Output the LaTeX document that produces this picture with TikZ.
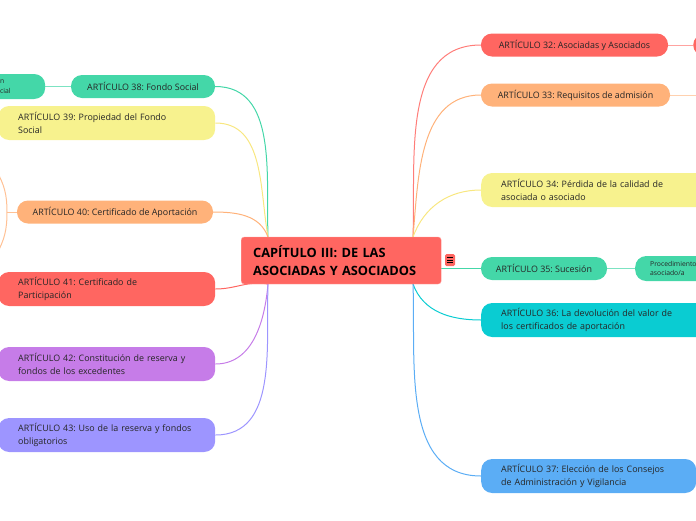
\documentclass[tikz,border=0pt]{standalone}
\usepackage{fontspec}
\setmainfont{Open Sans}
\usetikzlibrary{backgrounds}
\frenchspacing

\definecolor{cRed}{RGB}{255,102,97}
\definecolor{cOrange}{RGB}{255,178,122}
\definecolor{cYellow}{RGB}{247,242,142}
\definecolor{cGreen}{RGB}{68,215,168}
\definecolor{cCyan}{RGB}{10,204,210}
\definecolor{cBlue}{RGB}{91,173,245}
\definecolor{cPurple}{RGB}{198,124,232}
\definecolor{cViolet}{RGB}{157,149,255}

\begin{document}
\begin{tikzpicture}[x=1pt,y=-1pt,
    art/.style={rounded corners=11pt, inner sep=0pt, minimum height=23pt,
                font=\fontsize{8.9}{13}\selectfont, text=black!85},
    arttwo/.style={art, minimum height=34pt, align=left, anchor=west,
                inner xsep=20pt},
    child/.style={rounded corners=11pt, inner sep=0pt, minimum height=25pt,
                font=\fontsize{6.8}{9.5}\selectfont, text=black!85, align=left, anchor=west},
    link/.style={line width=1pt}]
                \useasboundingbox (0,0) rectangle (696,520);
                \clip (0,0) rectangle (696,520);

                % central node
                \node[fill=cRed, draw=cRed!60, rounded corners=3pt, anchor=west,
                      minimum height=47pt, text width=176pt, inner xsep=12pt, align=left,
                      font=\fontsize{12.8}{18}\bfseries\selectfont] (cap) at (241,260.5)
                      {CAPÍTULO III: DE LAS\\ASOCIADAS Y ASOCIADOS};
                \node[fill=cRed, rounded corners=1.5pt, minimum width=10pt, minimum height=12pt,
                      inner sep=0pt] (menu) at (450,260) {};
                \foreach \dy in {-2.5,0,2.5}
                    \draw[line width=0.8pt] ([xshift=-3pt,yshift=-\dy pt]menu.center) -- ([xshift=3pt,yshift=-\dy pt]menu.center);

                \coordinate (rt) at (413,237);
                \coordinate (rb) at (413,284);
                \coordinate (lt) at (268,237);
                \coordinate (lb) at (268,284);

                % right side
                \node[art, fill=cRed, minimum width=187pt] (a32) at (574.5,45) {ARTÍCULO 32: Asociadas y Asociados};
                \node[art, fill=cOrange, minimum width=189pt] (a33) at (575.5,95) {ARTÍCULO 33: Requisitos de admisión};
                \node[arttwo, fill=cYellow, text width=230pt] (a34) at (481,190)
                    {ARTÍCULO 34: Pérdida de la calidad de\\asociada o asociado};
                \node[art, fill=cGreen, minimum width=126pt] (a35) at (544,268.5) {ARTÍCULO 35: Sucesión};
                \node[arttwo, fill=cCyan, text width=230pt] (a36) at (481,320)
                    {ARTÍCULO 36: La devolución del valor de\\los certificados de aportación};
                \node[arttwo, fill=cBlue, text width=175pt] (a37) at (481,476)
                    {ARTÍCULO 37: Elección de los Consejos\\de Administración y Vigilancia};

                \node[child, fill=cRed, minimum width=100pt, minimum height=22pt] (a32c) at (693,45) {};
                \node[child, fill=cGreen, minimum width=100pt, inner xsep=15pt, text width=70pt] (a35c) at (635,268.5)
                    {Procedimiento\\asociado/a};
                \coordinate (a33c) at (700,95);

                % left side
                \node[art, fill=cGreen, minimum width=144pt] (a38) at (143,86.5) {ARTÍCULO 38: Fondo Social};
                \node[arttwo, fill=cYellow, text width=177pt] (a39) at (-2,123)
                    {ARTÍCULO 39: Propiedad del Fondo\\Social};
                \node[art, fill=cOrange, minimum width=196pt] (a40) at (115,212) {ARTÍCULO 40: Certificado de Aportación};
                \node[arttwo, fill=cRed, text width=177pt] (a41) at (-2,289)
                    {ARTÍCULO 41: Certificado de\\Participación};
                \node[arttwo, fill=cPurple, text width=177pt] (a42) at (-2,364)
                    {ARTÍCULO 42: Constitución de reserva y\\fondos de los excedentes};
                \node[arttwo, fill=cViolet, text width=177pt] (a43) at (-2,435)
                    {ARTÍCULO 43: Uso de la reserva y fondos\\obligatorios};

                \node[child, fill=cGreen, minimum width=105pt, text width=105pt, inner xsep=0pt] (a38c) at (-60,86.5)
                    {\hspace*{60pt}n\\\hspace*{60pt}cial};
                \coordinate (a40j) at (7,212);
                \coordinate (a40u) at (-4,170);
                \coordinate (a40d) at (-4,255);

                \begin{pgfonlayer}{background}
                \draw[link, cRed!85] (rt) to[out=88,in=180] (a32.west);
                \draw[link, cOrange] (rt) to[out=85,in=180] (a33.west);
                \draw[link, cYellow!90!orange] (rt) to[out=70,in=180] (a34.west);
                \draw[link, cGreen] (cap.east |- a35.west) -- (a35.west);
                \draw[link, cCyan] (rb) to[out=-70,in=180] (a36.west);
                \draw[link, cBlue] (rb) to[out=-88,in=180] (a37.west);
                \draw[link, cRed!60] (a32.east) -- (a32c.west);
                \draw[link, cOrange!60] (a33.east) -- (a33c);
                \draw[link, cGreen!70] (a35.east) -- (a35c.west);

                \draw[link, cGreen] (lt) to[out=92,in=0] (a38.east);
                \draw[link, cYellow!90!orange] (lt) to[out=100,in=0] (a39.east);
                \draw[link, cOrange] (lt) to[out=110,in=0] (a40.east);
                \draw[link, cRed] (lb) to[out=170,in=0] (a41.east);
                \draw[link, cPurple] (lb) to[out=-95,in=0] (a42.east);
                \draw[link, cViolet] (lb) to[out=-92,in=0] (a43.east);
                \draw[link, cGreen!70] (a38c.east) -- (a38.west);
                \draw[link, cOrange!80] (a40.west) -- (a40j);
                \draw[link, cOrange!80] (a40j) to[out=90,in=-60] (a40u);
                \draw[link, cOrange!80] (a40j) to[out=-90,in=60] (a40d);
                \end{pgfonlayer}
            \end{tikzpicture}
\end{document}
